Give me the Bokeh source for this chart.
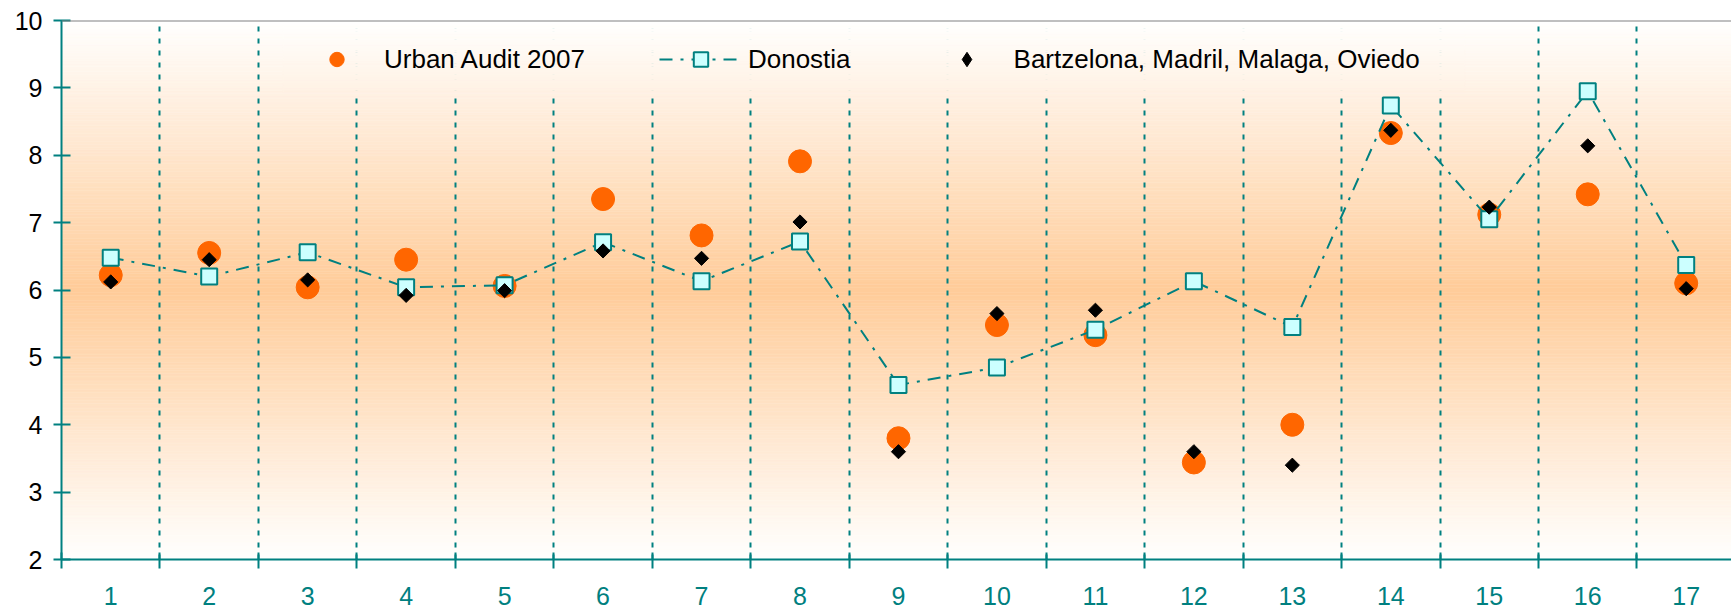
import numpy as np
from bokeh.plotting import figure
from bokeh.models import Range1d, FixedTicker, Span, Legend, LegendItem
from bokeh.embed import file_html
from bokeh.resources import INLINE

# ---- data ----
categories = list(range(1, 18))
urban_audit = [6.22, 6.55, 6.04, 6.45, 6.06, 7.35, 6.81, 7.91, 3.80, 5.48, 5.33, 3.44, 4.00, 8.33, 7.12, 7.42, 6.10]
donostia = [6.48, 6.20, 6.56, 6.04, 6.07, 6.71, 6.13, 6.72, 4.59, 4.85, 5.41, 6.13, 5.45, 8.74, 7.05, 8.95, 6.37]
big_cities = [6.12, 6.45, 6.15, 5.92, 5.99, 6.58, 6.47, 7.01, 3.60, 5.65, 5.70, 3.60, 3.40, 8.37, 7.23, 8.14, 6.02]
y_ticks = [2, 3, 4, 5, 6, 7, 8, 9, 10]
series_names = ["Urban Audit 2007", "Donostia", "Bartzelona, Madril, Malaga, Oviedo"]

TEAL = "#008080"
ORANGE = "#FF6600"
FONT = "Liberation Sans"

y_min, y_max = y_ticks[0], y_ticks[-1]
x_lo, x_hi = 0.5, 17.46

p = figure(width=1731, height=608, x_range=Range1d(x_lo, x_hi), y_range=Range1d(y_min, y_max),
           output_backend="svg", toolbar_location=None,
           min_border_left=61, min_border_right=0, min_border_top=20, min_border_bottom=49,
           outline_line_color=None, border_fill_color="white", background_fill_color="white")

# ---- background gradient (white -> tan -> white) ----
def grad_color(v):
    mid = (y_min + y_max) / 2.0
    t = min(1.0, abs(v - mid) / ((y_max - y_min) / 2.0))
    peak = (255, 204, 153)
    r = int(round(peak[0] + (255 - peak[0]) * t))
    g = int(round(peak[1] + (255 - peak[1]) * t))
    b = int(round(peak[2] + (255 - peak[2]) * t))
    return "#%02x%02x%02x" % (r, g, b)

edges = np.linspace(y_min, y_max, 201)
bots = edges[:-1]
tops = edges[1:]
cols = [grad_color((a + b) / 2) for a, b in zip(bots, tops)]
bg = p.quad(left=x_lo, right=x_hi + 1, bottom=bots, top=tops, fill_color=cols, line_color=cols, line_width=0.5)
bg.level = "image"

# patch behind the legend (hides the grid lines there)
lb, lt = 8.93, 9.97
sel = [(a, b, c) for a, b, c in zip(bots, tops, cols) if b > lb and a < lt]
pb = [max(a, lb) for a, b, c in sel]
pt = [min(b, lt) for a, b, c in sel]
pc = [c for a, b, c in sel]
p.quad(left=2.75, right=14.75, bottom=pb, top=pt, fill_color=pc, line_color=pc, line_width=0.5)

# ---- axes ----
boundaries = [c - 0.5 for c in categories] + [categories[-1] + 0.5]

p.yaxis.ticker = FixedTicker(ticks=y_ticks, minor_ticks=[])
p.yaxis.axis_line_color = TEAL
p.yaxis.axis_line_width = 2
p.yaxis.major_tick_line_color = TEAL
p.yaxis.major_tick_line_width = 2
p.yaxis.major_tick_in = 9
p.yaxis.major_tick_out = 8
p.yaxis.minor_tick_line_color = None
p.yaxis.major_label_text_font = FONT
p.yaxis.major_label_text_font_size = "25px"
p.yaxis.major_label_text_color = "black"
p.yaxis.major_label_standoff = 11

p.xaxis.ticker = FixedTicker(ticks=categories, minor_ticks=boundaries)
p.xaxis.axis_line_color = TEAL
p.xaxis.axis_line_width = 2
p.xaxis.major_tick_in = 0
p.xaxis.major_tick_out = 0
p.xaxis.major_tick_line_color = None
p.xaxis.minor_tick_line_color = TEAL
p.xaxis.minor_tick_line_width = 2
p.xaxis.minor_tick_in = 7
p.xaxis.minor_tick_out = 9
p.xaxis.major_label_text_font = FONT
p.xaxis.major_label_text_font_size = "25px"
p.xaxis.major_label_text_color = TEAL
p.xaxis.major_label_standoff = 18

p.ygrid.grid_line_color = None
p.xgrid.ticker = FixedTicker(ticks=boundaries[1:-1])
p.xgrid.grid_line_color = TEAL
p.xgrid.grid_line_width = 2
p.xgrid.grid_line_dash = "5 7"

p.add_layout(Span(location=y_max, dimension="width", line_color="#808080", line_width=2))

# ---- series ----
r_ua = p.scatter(categories, urban_audit, marker="circle", size=23, fill_color=ORANGE, line_color=ORANGE)
r_dl = p.line(categories, donostia, line_color=TEAL, line_width=2, line_dash="13 8 3 8")
r_ds = p.scatter(categories, donostia, marker="square", size=16, fill_color="#CCFFFF", line_color=TEAL, line_width=2)
r_bc = p.scatter(categories, big_cities, marker="square", angle=np.pi / 4, size=10, fill_color="black", line_color="black")
# legend-only glyph (hidden on the plot)
r_bc_leg = p.scatter(categories, big_cities, marker="diamond", size=14, fill_color="black", line_color="black", visible=False)

legend = Legend(items=[LegendItem(label=series_names[0], renderers=[r_ua]),
                       LegendItem(label=series_names[1], renderers=[r_dl, r_ds]),
                       LegendItem(label=series_names[2], renderers=[r_bc_leg])],
                location=(234, 482), orientation="horizontal",
                glyph_width=83, glyph_height=36, label_height=36, label_standoff=6, spacing=74,
                padding=0, margin=0, border_line_color=None, background_fill_alpha=0,
                label_text_font=FONT, label_text_font_size="26px", label_text_color="black")
p.add_layout(legend)

open("out.html", "w").write(file_html(p, INLINE))
